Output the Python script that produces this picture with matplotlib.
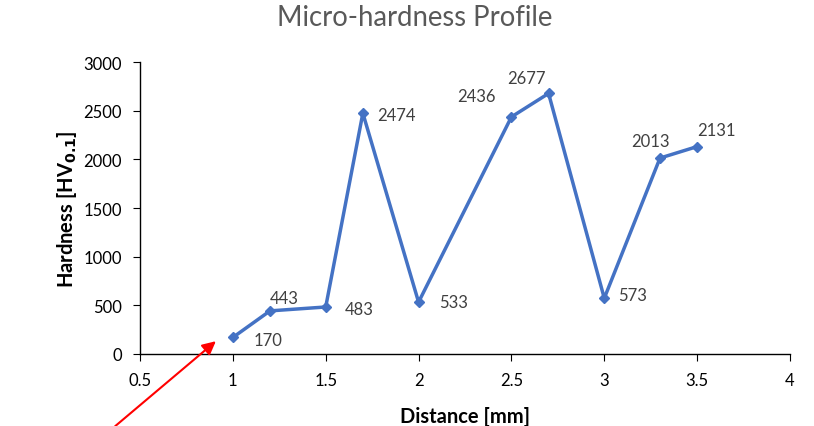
import matplotlib.pyplot as plt

plt.rcParams['font.family'] = ['Lato', 'DejaVu Sans']

# distance from surface [mm] and measured hardness
distance = [1, 1.2, 1.5, 1.7, 2, 2.5, 2.7, 3, 3.3, 3.5]
hardness = [170, 443, 483, 2474, 533, 2436, 2677, 573, 2013, 2131]

# label centre offsets from each point, in points
label_offsets = [(25, -1.5), (10, 9), (24, -1.5), (24, -1), (25, 0),
                 (-25, 15), (-16, 11), (20, 2), (-7, 12), (14, 12)]

fig = plt.figure(figsize=(8.14, 4.27), dpi=100)
ax = fig.add_axes([140 / 814, (427 - 355) / 427, 650 / 814, 292 / 427])

blue = '#4472C4'
ax.plot(distance, hardness, color=blue, linewidth=2.5, marker='D', markersize=5)

for x, y, off in zip(distance, hardness, label_offsets):
    ax.annotate(str(y), (x, y), xytext=off, textcoords='offset points',
                ha='center', va='center', color='#404040', fontsize=12)

ax.set_xlim(0.5, 4)
ax.set_ylim(0, 3000)
ax.set_xticks([0.5, 1, 1.5, 2, 2.5, 3, 3.5, 4])
ax.set_xticklabels(['0.5', '1', '1.5', '2', '2.5', '3', '3.5', '4'])
ax.set_yticks(range(0, 3001, 500))

for side in ['top', 'right']:
    ax.spines[side].set_visible(False)
for side in ['left', 'bottom']:
    ax.spines[side].set_linewidth(1)
ax.tick_params(direction='out', length=5, labelsize=12, colors='black')
ax.tick_params(axis='x', pad=8)
ax.tick_params(axis='y', pad=8)

ax.set_xlabel('Distance [mm]', fontsize=14.5, fontweight='bold', labelpad=13)
ax.set_ylabel(r'Hardness [HV$_{\mathbf{0.1}}$]', fontsize=14.5, fontweight='bold', labelpad=3)
fig.text(415 / 814, 1 - 18 / 427, 'Micro-hardness Profile', ha='center', va='center',
         fontsize=19.8, color='#595959')

# red pointer towards the first indent
ax.annotate('', xy=(0.92, 150), xytext=(113, -2), textcoords='figure pixels',
            xycoords='data', annotation_clip=False,
            arrowprops=dict(arrowstyle='-|>', color='red', lw=1.5, mutation_scale=20))

fig.savefig('out.png', dpi=100)
